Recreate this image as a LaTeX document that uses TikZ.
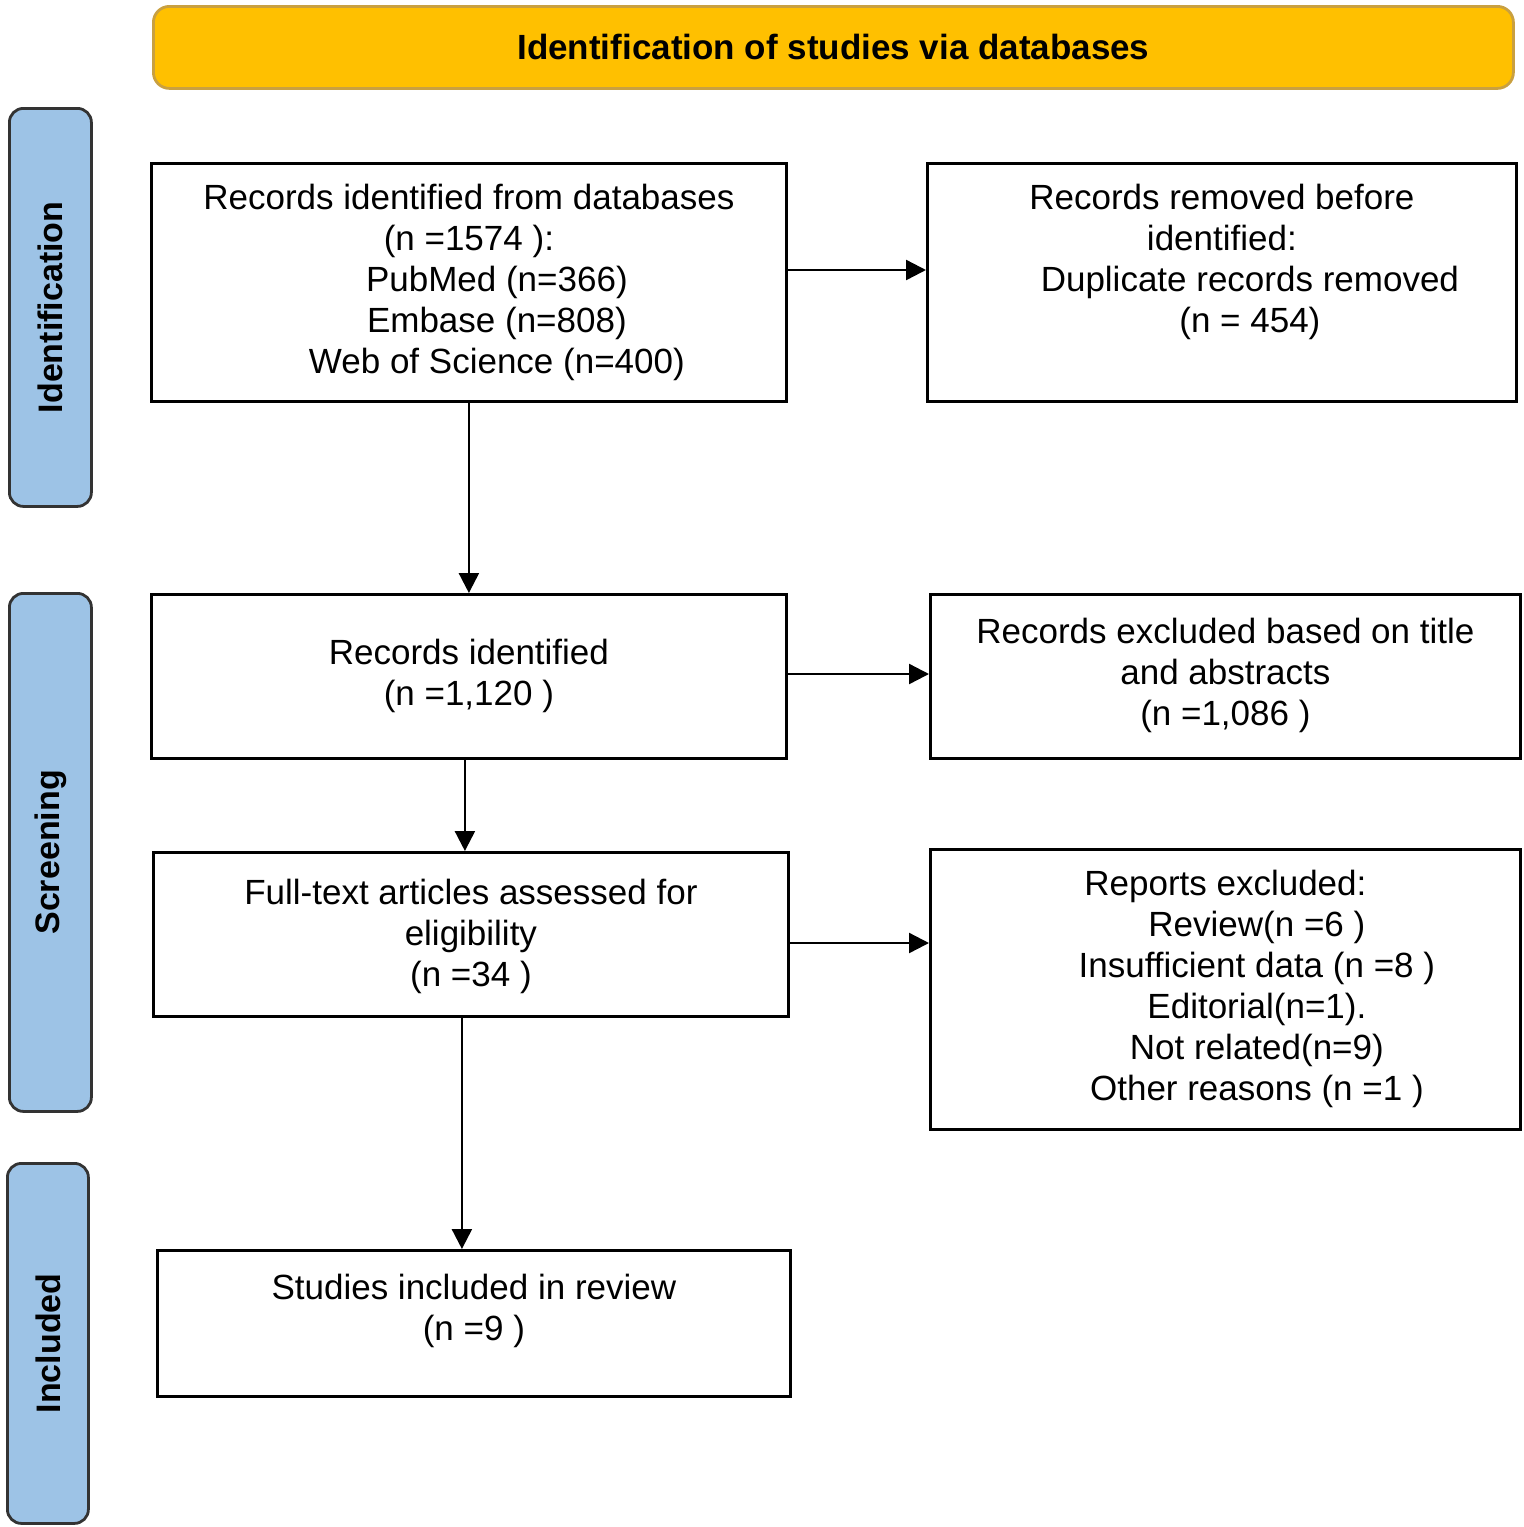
\documentclass[tikz,border=0pt]{standalone}
\usepackage{fontspec}
\setmainfont{Liberation Sans}
\usetikzlibrary{arrows.meta,calc}
\begin{document}
\begin{tikzpicture}[x=0.5pt,y=-0.5pt,
  box/.style={draw=black,line width=1.4pt,inner sep=0pt,anchor=north west},
  txt/.style={align=center,font=\fontsize{17.5}{20.5}\selectfont,inner sep=0pt,anchor=north},
  side/.style={draw=black!80,fill=sideblue,line width=1.4pt,rounded corners=7pt,inner sep=0pt,anchor=north west},
  stxt/.style={rotate=90,font=\fontsize{17}{18}\selectfont\bfseries},
  arr/.style={line width=1.2pt,-{Triangle[length=10pt,width=10pt]}}]
\definecolor{sideblue}{HTML}{9DC3E6}
\definecolor{headfill}{HTML}{FFC000}
\definecolor{headline}{HTML}{C9A040}
\useasboundingbox (0,0) rectangle (1524,1527);
% header
\node[draw=headline,fill=headfill,line width=1.4pt,rounded corners=8pt,anchor=north west,minimum width=680pt,minimum height=41pt,inner sep=0pt] (H) at (152,5) {};
\node[font=\fontsize{17.5}{18}\selectfont\bfseries] (Ht) at (H.center) {Identification of studies via databases};
% side bars
\node[side,minimum width=41pt,minimum height=199pt] (S1) at (8,107) {};
\node[stxt] at (S1.center) {Identification};
\node[side,minimum width=41pt,minimum height=259pt] (S2) at (8,592) {};
\node[stxt] at (S2.center) {Screening};
\node[side,minimum width=40.5pt,minimum height=180pt] (S3) at (6,1162) {};
\node[stxt] at (S3.center) {Included};
% boxes
\node[box,minimum width=317.5pt,minimum height=119pt] (A) at (150,162) {};
\node[txt] at ($(A.north)+(0,22)$) {Records identified from databases\\(n =1574 ):\\\hspace*{1.6em}PubMed (n=366)\\\hspace*{1.6em}Embase (n=808)\\\hspace*{1.6em}Web of Science (n=400)};
\node[box,minimum width=294.5pt,minimum height=119pt] (B) at (926,162) {};
\node[txt] at ($(B.north)+(0,22)$) {Records removed before\\identified:\\\hspace*{1.6em}Duplicate records removed\\\hspace*{1.6em}(n = 454)};
\node[box,minimum width=317.5pt,minimum height=82pt] (C) at (150,593) {};
\node[txt] at ($(C.north)+(0,46)$) {Records identified\\(n =1,120 )};
\node[box,minimum width=295pt,minimum height=82pt] (D) at (929,593) {};
\node[txt] at ($(D.north)+(0,25)$) {Records excluded based on title\\and abstracts\\(n =1,086 )};
\node[box,minimum width=317.5pt,minimum height=82pt] (E) at (152,851) {};
\node[txt] at ($(E.north)+(0,28)$) {Full-text articles assessed for\\eligibility\\(n =34 )};
\node[box,minimum width=295pt,minimum height=140pt] (F) at (929,848) {};
\node[txt] at ($(F.north)+(0,22)$) {Reports excluded:\\\hspace*{1.8em}Review(n =6 )\\\hspace*{1.8em}Insufficient data (n =8 )\\\hspace*{1.8em}Editorial(n=1).\\\hspace*{1.8em}Not related(n=9)\\\hspace*{1.8em}Other reasons (n =1 )};
\node[box,minimum width=316.5pt,minimum height=73pt] (G) at (156,1249) {};
\node[txt] at ($(G.north)+(0,25)$) {Studies included in review\\(n =9 )};
% arrows
\draw[arr] (A.south) -- (A.south |- C.north);
\draw[arr] (A.east |- 0,270) -- (B.west |- 0,270);
\draw[arr] (C.east |- 0,674) -- (D.west |- 0,674);
\draw[arr] ($(C.south)+(-4,0)$) -- ($(C.south |- E.north)+(-4,0)$);
\draw[arr] (E.east |- 0,943) -- (F.west |- 0,943);
\draw[arr] ($(E.south)+(-9,0)$) -- ($(E.south |- G.north)+(-9,0)$);
\end{tikzpicture}
\end{document}
